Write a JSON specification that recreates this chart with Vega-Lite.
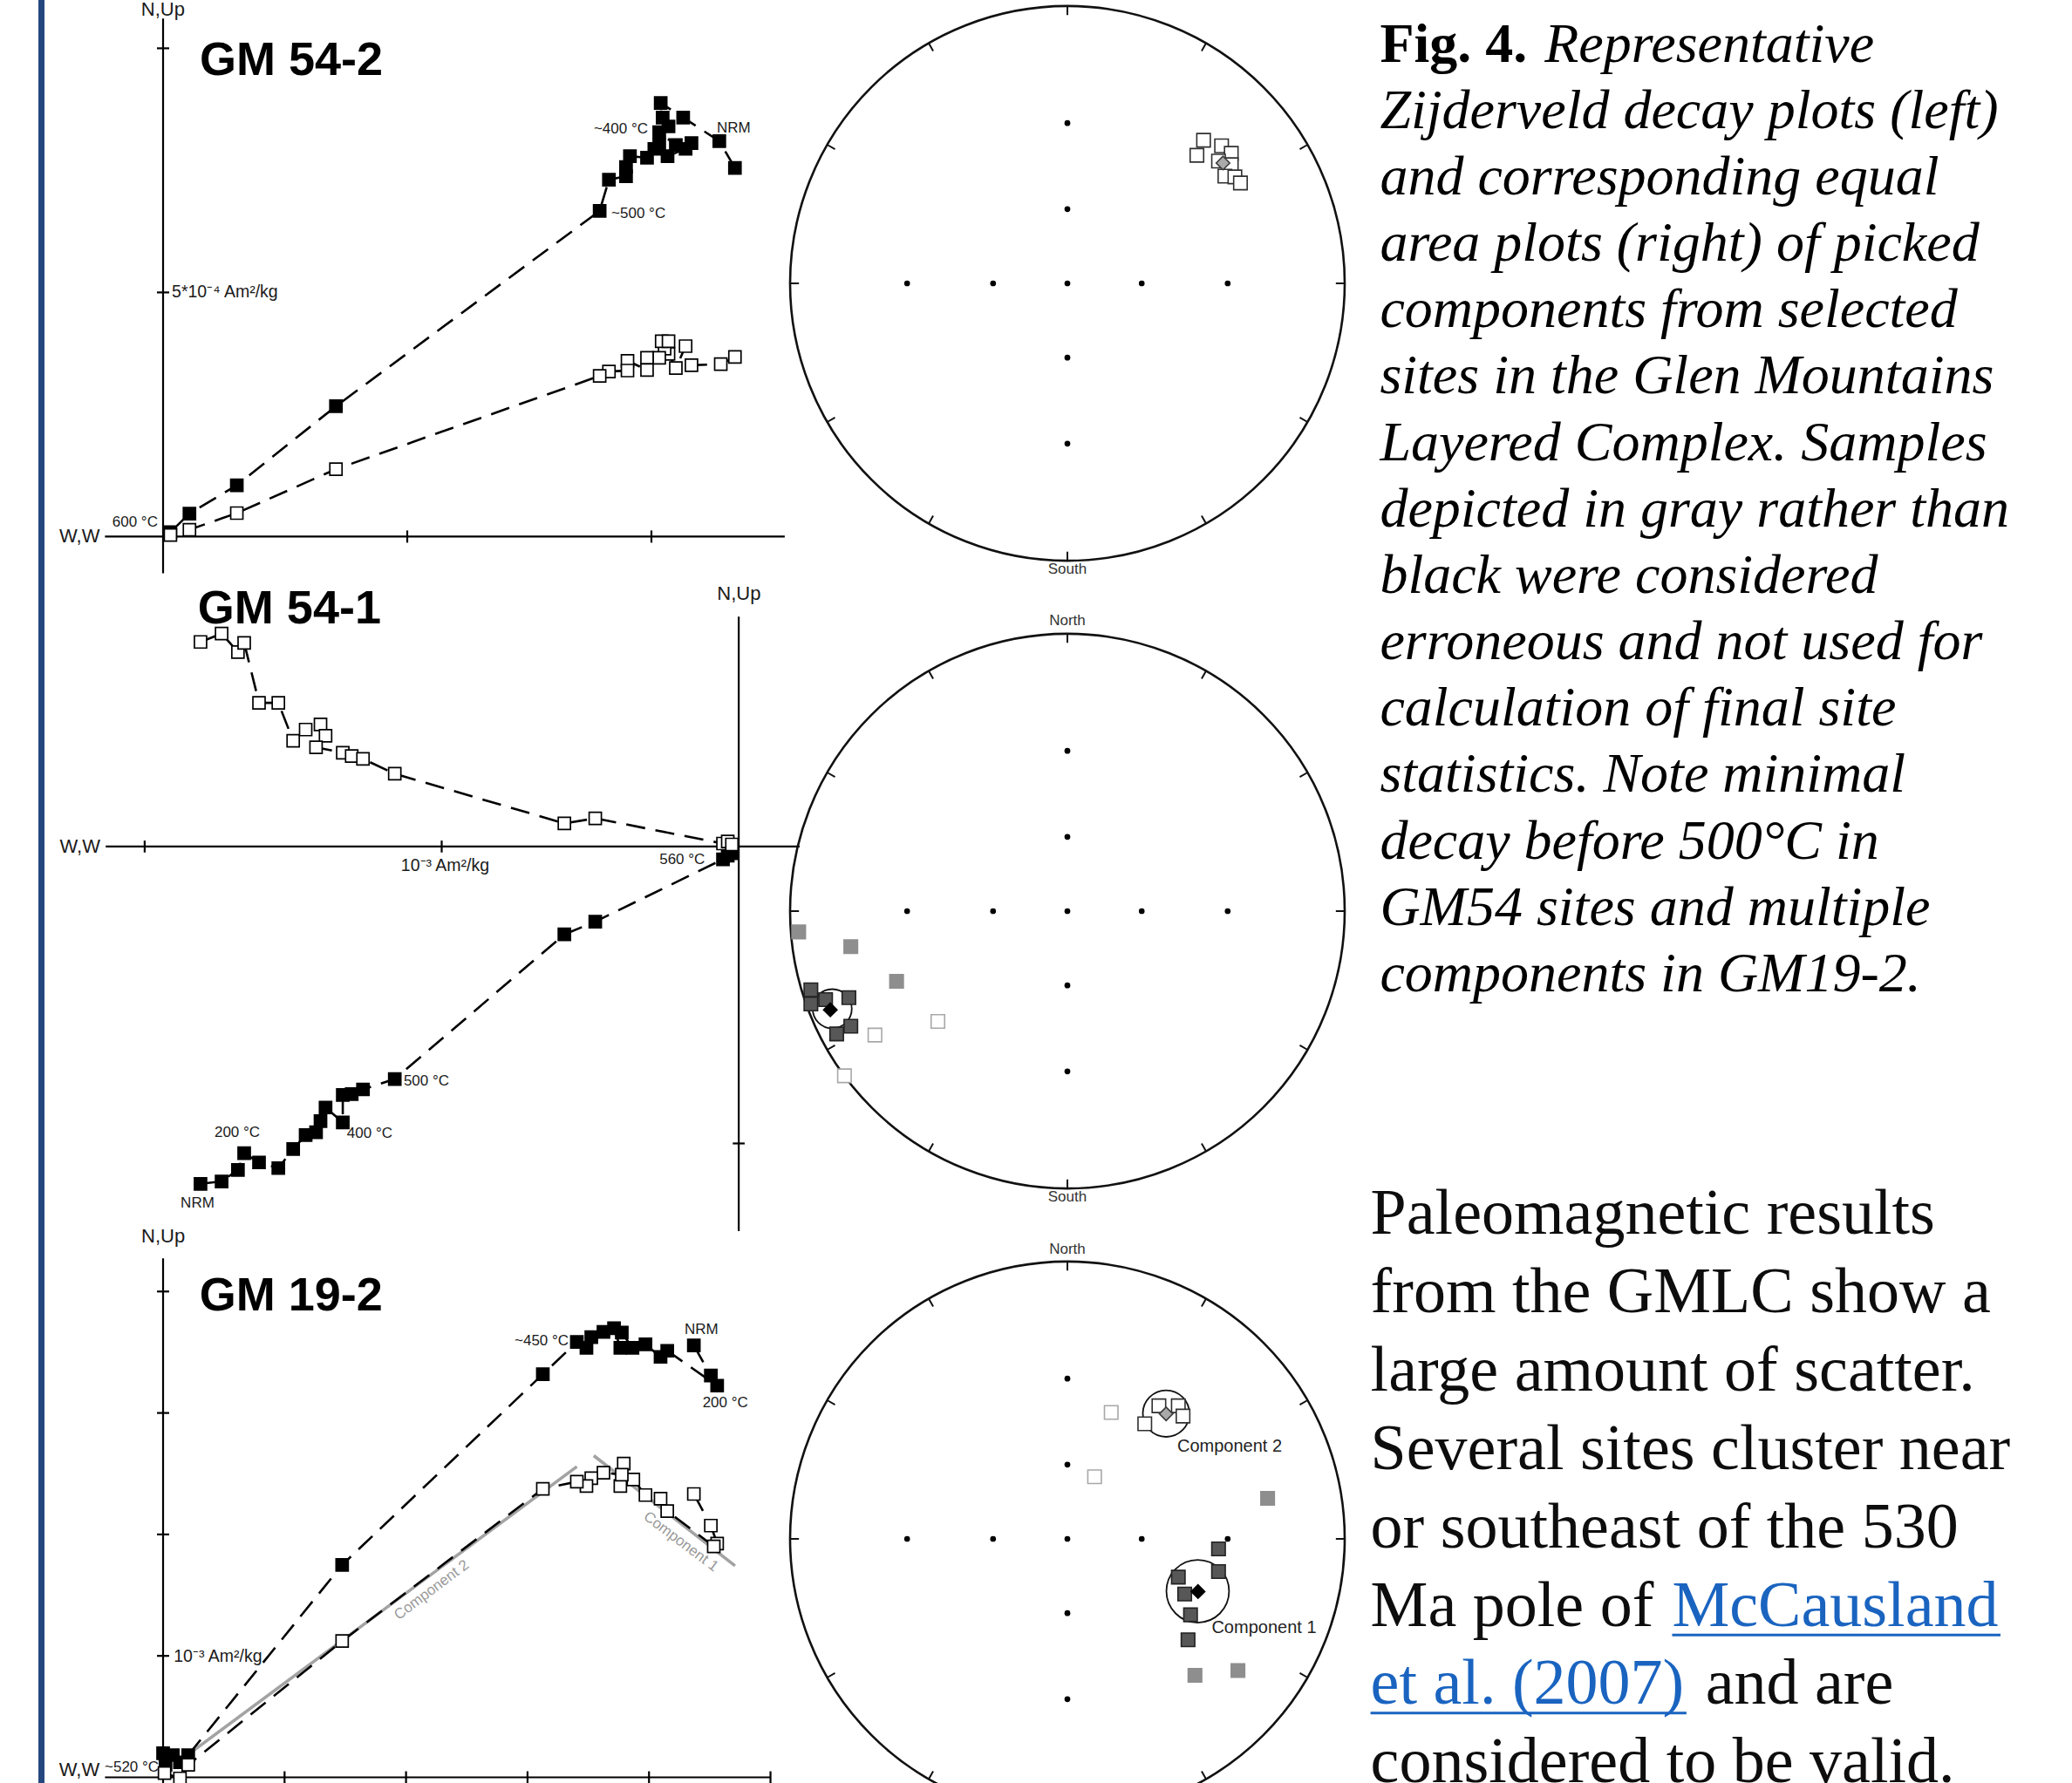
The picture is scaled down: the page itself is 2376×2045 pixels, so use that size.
{
"$schema": "https://vega.github.io/schema/vega-lite/v6.json",
"width": 2376, "height": 2045, "autosize": {"type": "none"}, "padding": 0,
"background": "#ffffff",
"config": {"view": {"stroke": null}},
"resolve": {"scale": {"x": "independent", "y": "independent", "size": "independent", "fill": "independent", "stroke": "independent", "color": "independent"}},
"datasets": {
  "net_ticks": [
    {"u": 0, "v": 1, "u2": 0, "v2": 0.968},
    {"u": 0.5, "v": 0.866, "u2": 0.484, "v2": 0.838},
    {"u": 0.866, "v": 0.5, "u2": 0.838, "v2": 0.484},
    {"u": 1, "v": 0, "u2": 0.968, "v2": 0},
    {"u": 0.866, "v": -0.5, "u2": 0.838, "v2": -0.484},
    {"u": 0.5, "v": -0.866, "u2": 0.484, "v2": -0.838},
    {"u": 0, "v": -1, "u2": 0, "v2": -0.968},
    {"u": -0.5, "v": -0.866, "u2": -0.484, "v2": -0.838},
    {"u": -0.866, "v": -0.5, "u2": -0.838, "v2": -0.484},
    {"u": -1, "v": 0, "u2": -0.968, "v2": 0},
    {"u": -0.866, "v": 0.5, "u2": -0.838, "v2": 0.484},
    {"u": -0.5, "v": 0.866, "u2": -0.484, "v2": 0.838}
  ],
  "net_dots": [
    {"u": 0, "v": 0}, {"u": 0, "v": 0.268}, {"u": 0, "v": 0.578}, {"u": 0, "v": -0.268}, {"u": 0, "v": -0.578},
    {"u": 0.268, "v": 0}, {"u": 0.578, "v": 0}, {"u": -0.268, "v": 0}, {"u": -0.578, "v": 0}
  ]
},
"layer": [
  {
    "data": {"values": [{"X": 0.02, "Y": 0, "Y2": 1}]},
    "mark": {"type": "rule", "color": "#24477f", "strokeWidth": 7},
    "encoding": {
      "x": {"field": "X", "type": "quantitative", "scale": {"domain": [0, 1], "range": [0, 2376], "nice": false, "zero": false}, "axis": null},
      "y": {"field": "Y", "type": "quantitative", "scale": {"domain": [0, 1], "range": [0, 2045], "nice": false, "zero": false}, "axis": null},
      "y2": {"field": "Y2"}
    }
  },
  {
    "data": {"values": [
      {"proj": "horizontal", "step": 0, "E": 11.71, "V": 7.55},
      {"proj": "horizontal", "step": 1, "E": 11.39, "V": 8.10},
      {"proj": "horizontal", "step": 2, "E": 10.65, "V": 8.58},
      {"proj": "horizontal", "step": 3, "E": 10.19, "V": 8.88},
      {"proj": "horizontal", "step": 4, "E": 10.23, "V": 8.58},
      {"proj": "horizontal", "step": 5, "E": 10.35, "V": 8.40},
      {"proj": "horizontal", "step": 6, "E": 10.16, "V": 8.28},
      {"proj": "horizontal", "step": 7, "E": 10.50, "V": 8.02},
      {"proj": "horizontal", "step": 8, "E": 10.82, "V": 8.06},
      {"proj": "horizontal", "step": 9, "E": 10.70, "V": 7.94},
      {"proj": "horizontal", "step": 10, "E": 10.33, "V": 7.79},
      {"proj": "horizontal", "step": 11, "E": 10.16, "V": 8.02},
      {"proj": "horizontal", "step": 12, "E": 10.06, "V": 7.94},
      {"proj": "horizontal", "step": 13, "E": 9.91, "V": 7.76},
      {"proj": "horizontal", "step": 14, "E": 9.56, "V": 7.79},
      {"proj": "horizontal", "step": 15, "E": 9.48, "V": 7.57},
      {"proj": "horizontal", "step": 16, "E": 9.48, "V": 7.38},
      {"proj": "horizontal", "step": 17, "E": 9.13, "V": 7.31},
      {"proj": "horizontal", "step": 18, "E": 8.94, "V": 6.67},
      {"proj": "horizontal", "step": 19, "E": 3.54, "V": 2.67},
      {"proj": "horizontal", "step": 20, "E": 1.51, "V": 1.05},
      {"proj": "horizontal", "step": 21, "E": 0.54, "V": 0.47},
      {"proj": "horizontal", "step": 22, "E": 0.15, "V": 0.09},
      {"proj": "vertical", "step": 0, "E": 11.71, "V": 3.68},
      {"proj": "vertical", "step": 1, "E": 11.42, "V": 3.53},
      {"proj": "vertical", "step": 2, "E": 10.82, "V": 3.51},
      {"proj": "vertical", "step": 3, "E": 10.70, "V": 3.90},
      {"proj": "vertical", "step": 4, "E": 10.50, "V": 3.45},
      {"proj": "vertical", "step": 5, "E": 10.35, "V": 3.74},
      {"proj": "vertical", "step": 6, "E": 10.27, "V": 3.85},
      {"proj": "vertical", "step": 7, "E": 10.21, "V": 4.00},
      {"proj": "vertical", "step": 8, "E": 10.35, "V": 4.00},
      {"proj": "vertical", "step": 9, "E": 10.16, "V": 3.66},
      {"proj": "vertical", "step": 10, "E": 9.91, "V": 3.66},
      {"proj": "vertical", "step": 11, "E": 9.91, "V": 3.41},
      {"proj": "vertical", "step": 12, "E": 9.51, "V": 3.60},
      {"proj": "vertical", "step": 13, "E": 9.51, "V": 3.40},
      {"proj": "vertical", "step": 14, "E": 9.13, "V": 3.38},
      {"proj": "vertical", "step": 15, "E": 8.94, "V": 3.29},
      {"proj": "vertical", "step": 16, "E": 3.54, "V": 1.38},
      {"proj": "vertical", "step": 17, "E": 1.51, "V": 0.48},
      {"proj": "vertical", "step": 18, "E": 0.54, "V": 0.14},
      {"proj": "vertical", "step": 19, "E": 0.15, "V": 0.03}
    ]},
    "encoding": {
      "x": {"field": "E", "type": "quantitative", "scale": {"domain": [-2.5, 13], "range": [47, 915], "nice": false, "zero": false}, "axis": null},
      "y": {"field": "V", "type": "quantitative", "scale": {"domain": [-1, 11.5], "range": [671.4, -28.6], "nice": false, "zero": false}, "axis": null}
    },
    "layer": [
      {"data": {"values": [
        {"E": -1.19, "V": 0, "E2": 12.73, "V2": 0},
        {"E": 0, "V": -0.75, "E2": 0, "V2": 10.61},
        {"E": 5, "V": -0.125, "E2": 5, "V2": 0.125},
        {"E": 10, "V": -0.125, "E2": 10, "V2": 0.125},
        {"E": -0.125, "V": 5, "E2": 0.125, "V2": 5},
        {"E": -0.125, "V": 10, "E2": 0.125, "V2": 10}
      ]},
       "mark": {"type": "rule", "color": "#000000", "strokeWidth": 2.2},
       "encoding": {"x2": {"field": "E2"}, "y2": {"field": "V2"}}},
      {"mark": {"type": "line", "color": "#000000", "strokeWidth": 2.6, "strokeDash": [22, 12]},
       "encoding": {"detail": {"field": "proj"}, "order": {"field": "step", "type": "quantitative"}}},
      {"mark": {"type": "point", "shape": "square", "filled": true, "size": 196, "strokeWidth": 1.7, "opacity": 1, "stroke": "#000000"},
       "encoding": {"fill": {"field": "proj", "type": "nominal", "scale": {"domain": ["horizontal", "vertical"], "range": ["#000000", "#ffffff"]}, "legend": null}}},
      {"data": {"values": [
        {"E": -0.45, "V": 10.79, "label": "N,Up", "kind": "axis"},
        {"E": -2.125, "V": 0, "label": "W,W", "kind": "axis"},
        {"E": 0.18, "V": 5.0, "label": "5*10\u207b\u2074 Am\u00b2/kg", "kind": "unit"},
        {"E": -1.04, "V": 0.30, "label": "600 \u00b0C", "kind": "temp"},
        {"E": 8.82, "V": 8.35, "label": "~400 \u00b0C", "kind": "temp"},
        {"E": 9.18, "V": 6.61, "label": "~500 \u00b0C", "kind": "temp"},
        {"E": 11.34, "V": 8.37, "label": "NRM", "kind": "temp"}
      ]},
       "mark": {"type": "text", "align": "left", "baseline": "middle", "font": "Liberation Sans", "color": "#1a1a1a"},
       "encoding": {"text": {"field": "label"}, "size": {"field": "kind", "type": "ordinal", "scale": {"domain": ["axis", "unit", "temp"], "range": [22, 17, 16]}, "legend": null}}},
      {"data": {"values": [{"E": 0.75, "V": 9.45, "label": "GM 54-2"}]},
       "mark": {"type": "text", "align": "left", "baseline": "alphabetic", "font": "Liberation Sans Narrow, Arial Narrow, Liberation Sans, sans-serif", "fontWeight": "bold", "fontSize": 54, "color": "#000000"},
       "encoding": {"text": {"field": "label"}}}
    ]
  },
  {
    "data": {"values": [
      {"proj": "horizontal", "step": 0, "E": -18.12, "V": -11.36},
      {"proj": "horizontal", "step": 1, "E": -17.41, "V": -11.28},
      {"proj": "horizontal", "step": 2, "E": -16.86, "V": -10.89},
      {"proj": "horizontal", "step": 3, "E": -16.65, "V": -10.33},
      {"proj": "horizontal", "step": 4, "E": -16.15, "V": -10.64},
      {"proj": "horizontal", "step": 5, "E": -15.50, "V": -10.83},
      {"proj": "horizontal", "step": 6, "E": -15.00, "V": -10.19},
      {"proj": "horizontal", "step": 7, "E": -14.58, "V": -9.72},
      {"proj": "horizontal", "step": 8, "E": -14.23, "V": -9.62},
      {"proj": "horizontal", "step": 9, "E": -14.08, "V": -9.25},
      {"proj": "horizontal", "step": 10, "E": -13.91, "V": -8.79},
      {"proj": "horizontal", "step": 11, "E": -13.33, "V": -9.29},
      {"proj": "horizontal", "step": 12, "E": -13.33, "V": -8.37},
      {"proj": "horizontal", "step": 13, "E": -13.03, "V": -8.34},
      {"proj": "horizontal", "step": 14, "E": -12.65, "V": -8.18},
      {"proj": "horizontal", "step": 15, "E": -11.58, "V": -7.83},
      {"proj": "horizontal", "step": 16, "E": -5.87, "V": -2.96},
      {"proj": "horizontal", "step": 17, "E": -4.83, "V": -2.53},
      {"proj": "horizontal", "step": 18, "E": -0.53, "V": -0.43},
      {"proj": "horizontal", "step": 19, "E": -0.37, "V": -0.31},
      {"proj": "horizontal", "step": 20, "E": -0.23, "V": -0.23},
      {"proj": "vertical", "step": 0, "E": -18.12, "V": 6.89},
      {"proj": "vertical", "step": 1, "E": -17.41, "V": 7.17},
      {"proj": "vertical", "step": 2, "E": -16.86, "V": 6.55},
      {"proj": "vertical", "step": 3, "E": -16.65, "V": 6.86},
      {"proj": "vertical", "step": 4, "E": -16.15, "V": 4.84},
      {"proj": "vertical", "step": 5, "E": -15.50, "V": 4.84},
      {"proj": "vertical", "step": 6, "E": -15.00, "V": 3.56},
      {"proj": "vertical", "step": 7, "E": -14.58, "V": 3.94},
      {"proj": "vertical", "step": 8, "E": -14.08, "V": 4.11},
      {"proj": "vertical", "step": 9, "E": -13.91, "V": 3.73},
      {"proj": "vertical", "step": 10, "E": -14.23, "V": 3.34},
      {"proj": "vertical", "step": 11, "E": -13.33, "V": 3.16},
      {"proj": "vertical", "step": 12, "E": -13.03, "V": 3.05},
      {"proj": "vertical", "step": 13, "E": -12.65, "V": 2.95},
      {"proj": "vertical", "step": 14, "E": -11.58, "V": 2.45},
      {"proj": "vertical", "step": 15, "E": -5.87, "V": 0.78},
      {"proj": "vertical", "step": 16, "E": -4.83, "V": 0.95},
      {"proj": "vertical", "step": 17, "E": -0.53, "V": 0.10},
      {"proj": "vertical", "step": 18, "E": -0.37, "V": 0.17},
      {"proj": "vertical", "step": 19, "E": -0.23, "V": 0.07}
    ]},
    "encoding": {
      "x": {"field": "E", "type": "quantitative", "scale": {"domain": [-23, 3], "range": [63.7, 949.3], "nice": false, "zero": false}, "axis": null},
      "y": {"field": "V", "type": "quantitative", "scale": {"domain": [-14, 9], "range": [1447.7, 664.4], "nice": false, "zero": false}, "axis": null}
    },
    "layer": [
      {"data": {"values": [
        {"E": -21.31, "V": 0, "E2": 2.05, "V2": 0},
        {"E": 0, "V": -12.95, "E2": 0, "V2": 7.74},
        {"E": -20, "V": -0.2, "E2": -20, "V2": 0.2},
        {"E": -10, "V": -0.2, "E2": -10, "V2": 0.2},
        {"E": -0.2, "V": -10, "E2": 0.2, "V2": -10}
      ]},
       "mark": {"type": "rule", "color": "#000000", "strokeWidth": 2.2},
       "encoding": {"x2": {"field": "E2"}, "y2": {"field": "V2"}}},
      {"mark": {"type": "line", "color": "#000000", "strokeWidth": 2.6, "strokeDash": [22, 12]},
       "encoding": {"detail": {"field": "proj"}, "order": {"field": "step", "type": "quantitative"}}},
      {"mark": {"type": "point", "shape": "square", "filled": true, "size": 196, "strokeWidth": 1.7, "opacity": 1, "stroke": "#000000"},
       "encoding": {"fill": {"field": "proj", "type": "nominal", "scale": {"domain": ["horizontal", "vertical"], "range": ["#000000", "#ffffff"]}, "legend": null}}},
      {"data": {"values": [
        {"E": -0.73, "V": 8.5, "label": "N,Up", "kind": "axis"},
        {"E": -22.86, "V": 0, "label": "W,W", "kind": "axis"},
        {"E": -11.37, "V": -0.65, "label": "10\u207b\u00b3 Am\u00b2/kg", "kind": "unit"},
        {"E": -2.67, "V": -0.43, "label": "560 \u00b0C", "kind": "temp"},
        {"E": -11.28, "V": -7.90, "label": "500 \u00b0C", "kind": "temp"},
        {"E": -17.65, "V": -9.62, "label": "200 \u00b0C", "kind": "temp"},
        {"E": -13.19, "V": -9.65, "label": "400 \u00b0C", "kind": "temp"},
        {"E": -18.79, "V": -12.0, "label": "NRM", "kind": "temp"}
      ]},
       "mark": {"type": "text", "align": "left", "baseline": "middle", "font": "Liberation Sans", "color": "#1a1a1a"},
       "encoding": {"text": {"field": "label"}, "size": {"field": "kind", "type": "ordinal", "scale": {"domain": ["axis", "unit", "temp"], "range": [22, 17, 16]}, "legend": null}}},
      {"data": {"values": [{"E": -18.21, "V": 7.51, "label": "GM 54-1"}]},
       "mark": {"type": "text", "align": "left", "baseline": "alphabetic", "font": "Liberation Sans Narrow, Arial Narrow, Liberation Sans, sans-serif", "fontWeight": "bold", "fontSize": 54, "color": "#000000"},
       "encoding": {"text": {"field": "label"}}}
    ]
  },
  {
    "data": {"values": [
      {"proj": "horizontal", "step": 0, "E": 43.69, "V": 35.56},
      {"proj": "horizontal", "step": 1, "E": 45.09, "V": 33.08},
      {"proj": "horizontal", "step": 2, "E": 45.61, "V": 32.25},
      {"proj": "horizontal", "step": 3, "E": 41.50, "V": 35.12},
      {"proj": "horizontal", "step": 4, "E": 40.95, "V": 34.62},
      {"proj": "horizontal", "step": 5, "E": 39.71, "V": 35.65},
      {"proj": "horizontal", "step": 6, "E": 38.64, "V": 35.36},
      {"proj": "horizontal", "step": 7, "E": 37.76, "V": 36.62},
      {"proj": "horizontal", "step": 8, "E": 37.64, "V": 35.36},
      {"proj": "horizontal", "step": 9, "E": 37.12, "V": 36.98},
      {"proj": "horizontal", "step": 10, "E": 36.25, "V": 36.68},
      {"proj": "horizontal", "step": 11, "E": 35.25, "V": 36.24},
      {"proj": "horizontal", "step": 12, "E": 34.85, "V": 35.36},
      {"proj": "horizontal", "step": 13, "E": 34.06, "V": 35.85},
      {"proj": "horizontal", "step": 14, "E": 31.26, "V": 33.19},
      {"proj": "horizontal", "step": 15, "E": 14.74, "V": 17.49},
      {"proj": "horizontal", "step": 16, "E": 2.07, "V": 1.83},
      {"proj": "horizontal", "step": 17, "E": 1.39, "V": 1.24},
      {"proj": "horizontal", "step": 18, "E": 0.80, "V": 1.83},
      {"proj": "horizontal", "step": 19, "E": 0.00, "V": 1.98},
      {"proj": "horizontal", "step": 20, "E": 0.20, "V": 1.03},
      {"proj": "vertical", "step": 0, "E": 43.69, "V": 23.33},
      {"proj": "vertical", "step": 1, "E": 45.09, "V": 20.73},
      {"proj": "vertical", "step": 2, "E": 45.61, "V": 19.25},
      {"proj": "vertical", "step": 3, "E": 45.33, "V": 19.02},
      {"proj": "vertical", "step": 4, "E": 41.50, "V": 21.92},
      {"proj": "vertical", "step": 5, "E": 40.95, "V": 22.95},
      {"proj": "vertical", "step": 6, "E": 39.71, "V": 23.24},
      {"proj": "vertical", "step": 7, "E": 38.71, "V": 24.52},
      {"proj": "vertical", "step": 8, "E": 37.64, "V": 23.98},
      {"proj": "vertical", "step": 9, "E": 37.92, "V": 25.84},
      {"proj": "vertical", "step": 10, "E": 37.76, "V": 24.92},
      {"proj": "vertical", "step": 11, "E": 36.25, "V": 25.08},
      {"proj": "vertical", "step": 12, "E": 35.25, "V": 24.63},
      {"proj": "vertical", "step": 13, "E": 34.85, "V": 23.98},
      {"proj": "vertical", "step": 14, "E": 34.06, "V": 24.34},
      {"proj": "vertical", "step": 15, "E": 31.26, "V": 23.75},
      {"proj": "vertical", "step": 16, "E": 14.74, "V": 11.22},
      {"proj": "vertical", "step": 17, "E": 2.07, "V": 1.03},
      {"proj": "vertical", "step": 18, "E": 1.39, "V": -0.09},
      {"proj": "vertical", "step": 19, "E": 0.12, "V": 0.35}
    ]},
    "encoding": {
      "x": {"field": "E", "type": "quantitative", "scale": {"domain": [-10, 52], "range": [47.7, 911.4], "nice": false, "zero": false}, "axis": null},
      "y": {"field": "V", "type": "quantitative", "scale": {"domain": [-3, 46], "range": [2080.3, 1397.7], "nice": false, "zero": false}, "axis": null}
    },
    "layer": [
      {"data": {"values": [
        {"E": -4.78, "V": 0, "E2": 50, "V2": 0},
        {"E": 0, "V": -3, "E2": 0, "V2": 42.73},
        {"E": -0.5, "V": 10, "E2": 0.5, "V2": 10},
        {"E": -0.5, "V": 20, "E2": 0.5, "V2": 20},
        {"E": -0.5, "V": 30, "E2": 0.5, "V2": 30},
        {"E": -0.5, "V": 40, "E2": 0.5, "V2": 40},
        {"E": 10, "V": -0.5, "E2": 10, "V2": 0.5},
        {"E": 20, "V": -0.5, "E2": 20, "V2": 0.5},
        {"E": 30, "V": -0.5, "E2": 30, "V2": 0.5},
        {"E": 40, "V": -0.5, "E2": 40, "V2": 0.5},
        {"E": 50, "V": -0.5, "E2": 50, "V2": 0.5}
      ]},
       "mark": {"type": "rule", "color": "#000000", "strokeWidth": 2.2},
       "encoding": {"x2": {"field": "E2"}, "y2": {"field": "V2"}}},
      {"data": {"values": [
        {"comp": "Component 2", "step": 0, "E": 1.0, "V": 1.09},
        {"comp": "Component 2", "step": 1, "E": 34.06, "V": 25.58},
        {"comp": "Component 1", "step": 0, "E": 35.45, "V": 26.49},
        {"comp": "Component 1", "step": 1, "E": 47.08, "V": 17.42}
      ]},
       "mark": {"type": "line", "color": "#a3a3a3", "strokeWidth": 3.6},
       "encoding": {"detail": {"field": "comp"}, "order": {"field": "step", "type": "quantitative"}}},
      {"mark": {"type": "line", "color": "#000000", "strokeWidth": 2.6, "strokeDash": [22, 12]},
       "encoding": {"detail": {"field": "proj"}, "order": {"field": "step", "type": "quantitative"}}},
      {"mark": {"type": "point", "shape": "square", "filled": true, "size": 196, "strokeWidth": 1.7, "opacity": 1, "stroke": "#000000"},
       "encoding": {"fill": {"field": "proj", "type": "nominal", "scale": {"domain": ["horizontal", "vertical"], "range": ["#000000", "#ffffff"]}, "legend": null}}},
      {"data": {"values": [
        {"E": -1.79, "V": 44.51, "label": "N,Up", "kind": "axis"},
        {"E": -8.56, "V": 0.62, "label": "W,W", "kind": "axis"},
        {"E": 0.88, "V": 9.95, "label": "10\u207b\u00b3 Am\u00b2/kg", "kind": "unit"},
        {"E": -4.81, "V": 0.85, "label": "~520 \u00b0C", "kind": "temp"},
        {"E": 28.93, "V": 35.94, "label": "~450 \u00b0C", "kind": "temp"},
        {"E": 42.93, "V": 36.88, "label": "NRM", "kind": "temp"},
        {"E": 44.41, "V": 30.83, "label": "200 \u00b0C", "kind": "temp"}
      ]},
       "mark": {"type": "text", "align": "left", "baseline": "middle", "font": "Liberation Sans", "color": "#1a1a1a"},
       "encoding": {"text": {"field": "label"}, "size": {"field": "kind", "type": "ordinal", "scale": {"domain": ["axis", "unit", "temp"], "range": [22, 17, 16]}, "legend": null}}},
      {"data": {"values": [{"E": 22.11, "V": 15.42, "label": "Component 2"}]},
       "mark": {"type": "text", "align": "center", "baseline": "middle", "font": "Liberation Sans", "fontSize": 17, "angle": -37, "color": "#9a9a9a"},
       "encoding": {"text": {"field": "label"}}},
      {"data": {"values": [{"E": 42.62, "V": 19.40, "label": "Component 1"}]},
       "mark": {"type": "text", "align": "center", "baseline": "middle", "font": "Liberation Sans", "fontSize": 17, "angle": 37, "color": "#9a9a9a"},
       "encoding": {"text": {"field": "label"}}},
      {"data": {"values": [{"E": 2.99, "V": 38.44, "label": "GM 19-2"}]},
       "mark": {"type": "text", "align": "left", "baseline": "alphabetic", "font": "Liberation Sans Narrow, Arial Narrow, Liberation Sans, sans-serif", "fontWeight": "bold", "fontSize": 54, "color": "#000000"},
       "encoding": {"text": {"field": "label"}}}
    ]
  },
  {
    "encoding": {
      "x": {"field": "u", "type": "quantitative", "scale": {"domain": [-1.1, 1.1], "range": [874.2, 1573.8], "nice": false, "zero": false}, "axis": null},
      "y": {"field": "v", "type": "quantitative", "scale": {"domain": [-1.1, 1.1], "range": [674.8, -24.8], "nice": false, "zero": false}, "axis": null}
    },
    "layer": [
      {"data": {"values": [{"u": 0, "v": 0, "r": 1}]},
       "mark": {"type": "point", "shape": "circle", "filled": false, "stroke": "#111111", "strokeWidth": 2.6, "opacity": 1},
       "encoding": {"size": {"field": "r", "type": "quantitative", "scale": {"type": "pow", "exponent": 2, "domain": [0, 1], "range": [0, 404496]}, "legend": null}}},
      {"data": {"name": "net_ticks"}, "mark": {"type": "rule", "color": "#111111", "strokeWidth": 2}, "encoding": {"x2": {"field": "u2"}, "y2": {"field": "v2"}}},
      {"data": {"name": "net_dots"}, "mark": {"type": "point", "shape": "circle", "filled": true, "color": "#000000", "size": 45, "opacity": 1}},
      {"data": {"values": [
        {"type": "open", "u": 0.491, "v": 0.516}, {"type": "open", "u": 0.467, "v": 0.462}, {"type": "open", "u": 0.556, "v": 0.496},
        {"type": "open", "u": 0.591, "v": 0.469}, {"type": "open", "u": 0.545, "v": 0.441}, {"type": "open", "u": 0.591, "v": 0.428},
        {"type": "open", "u": 0.568, "v": 0.387}, {"type": "open", "u": 0.604, "v": 0.384}, {"type": "open", "u": 0.624, "v": 0.362},
        {"type": "meangray", "u": 0.561, "v": 0.434}
      ]},
       "mark": {"type": "point", "filled": true, "strokeWidth": 1.6, "opacity": 1},
       "encoding": {
         "shape": {"field": "type", "type": "nominal", "scale": {"domain": ["dark", "light", "open", "openlight", "meangray", "meanblack"], "range": ["square", "square", "square", "square", "diamond", "diamond"]}, "legend": null},
         "size": {"field": "type", "type": "nominal", "scale": {"domain": ["dark", "light", "open", "openlight", "meangray", "meanblack"], "range": [240, 240, 240, 240, 380, 380]}, "legend": null},
         "fill": {"field": "type", "type": "nominal", "scale": {"domain": ["dark", "light", "open", "openlight", "meangray", "meanblack"], "range": ["#575757", "#8e8e8e", "#ffffff", "#ffffff", "#a9a9a9", "#000000"]}, "legend": null},
         "stroke": {"field": "type", "type": "nominal", "scale": {"domain": ["dark", "light", "open", "openlight", "meangray", "meanblack"], "range": ["#222222", "#8e8e8e", "#303030", "#a8a8a8", "#3a3a3a", "#000000"]}, "legend": null}
       }},
      {"data": {"values": [{"u": 0, "v": -1.03, "label": "South"}]},
       "mark": {"type": "text", "align": "center", "baseline": "middle", "font": "Liberation Sans", "fontSize": 17, "color": "#333333"},
       "encoding": {"text": {"field": "label"}}}
    ]
  },
  {
    "encoding": {
      "x": {"field": "u", "type": "quantitative", "scale": {"domain": [-1.1, 1.1], "range": [874.2, 1573.8], "nice": false, "zero": false}, "axis": null},
      "y": {"field": "v", "type": "quantitative", "scale": {"domain": [-1.1, 1.1], "range": [1394.8, 695.2], "nice": false, "zero": false}, "axis": null}
    },
    "layer": [
      {"data": {"values": [{"u": 0, "v": 0, "r": 1}]},
       "mark": {"type": "point", "shape": "circle", "filled": false, "stroke": "#111111", "strokeWidth": 2.6, "opacity": 1},
       "encoding": {"size": {"field": "r", "type": "quantitative", "scale": {"type": "pow", "exponent": 2, "domain": [0, 1], "range": [0, 404496]}, "legend": null}}},
      {"data": {"name": "net_ticks"}, "mark": {"type": "rule", "color": "#111111", "strokeWidth": 2}, "encoding": {"x2": {"field": "u2"}, "y2": {"field": "v2"}}},
      {"data": {"name": "net_dots"}, "mark": {"type": "point", "shape": "circle", "filled": true, "color": "#000000", "size": 45, "opacity": 1}},
      {"data": {"values": [{"u": -0.848, "v": -0.352, "r": 0.0705}]},
       "mark": {"type": "point", "shape": "circle", "filled": false, "stroke": "#111111", "strokeWidth": 1.8, "opacity": 1},
       "encoding": {"size": {"field": "r", "type": "quantitative", "scale": {"type": "pow", "exponent": 2, "domain": [0, 1], "range": [0, 404496]}, "legend": null}}},
      {"data": {"values": [
        {"type": "light", "u": -0.969, "v": -0.075}, {"type": "light", "u": -0.781, "v": -0.128}, {"type": "light", "u": -0.616, "v": -0.253},
        {"type": "openlight", "u": -0.694, "v": -0.447}, {"type": "openlight", "u": -0.467, "v": -0.398}, {"type": "openlight", "u": -0.804, "v": -0.594},
        {"type": "dark", "u": -0.925, "v": -0.284}, {"type": "dark", "u": -0.925, "v": -0.335}, {"type": "dark", "u": -0.872, "v": -0.319},
        {"type": "dark", "u": -0.788, "v": -0.312}, {"type": "dark", "u": -0.781, "v": -0.415}, {"type": "dark", "u": -0.832, "v": -0.443},
        {"type": "meanblack", "u": -0.855, "v": -0.356}
      ]},
       "mark": {"type": "point", "filled": true, "strokeWidth": 1.6, "opacity": 1},
       "encoding": {
         "shape": {"field": "type", "type": "nominal", "scale": {"domain": ["dark", "light", "open", "openlight", "meangray", "meanblack"], "range": ["square", "square", "square", "square", "diamond", "diamond"]}, "legend": null},
         "size": {"field": "type", "type": "nominal", "scale": {"domain": ["dark", "light", "open", "openlight", "meangray", "meanblack"], "range": [240, 240, 240, 240, 340, 340]}, "legend": null},
         "fill": {"field": "type", "type": "nominal", "scale": {"domain": ["dark", "light", "open", "openlight", "meangray", "meanblack"], "range": ["#575757", "#8e8e8e", "#ffffff", "#ffffff", "#a9a9a9", "#000000"]}, "legend": null},
         "stroke": {"field": "type", "type": "nominal", "scale": {"domain": ["dark", "light", "open", "openlight", "meangray", "meanblack"], "range": ["#222222", "#8e8e8e", "#303030", "#a8a8a8", "#3a3a3a", "#000000"]}, "legend": null}
       }},
      {"data": {"values": [{"u": 0, "v": 1.047, "label": "North"}, {"u": 0, "v": -1.031, "label": "South"}]},
       "mark": {"type": "text", "align": "center", "baseline": "middle", "font": "Liberation Sans", "fontSize": 17, "color": "#333333"},
       "encoding": {"text": {"field": "label"}}}
    ]
  },
  {
    "encoding": {
      "x": {"field": "u", "type": "quantitative", "scale": {"domain": [-1.1, 1.1], "range": [874.2, 1573.8], "nice": false, "zero": false}, "axis": null},
      "y": {"field": "v", "type": "quantitative", "scale": {"domain": [-1.1, 1.1], "range": [2114.8, 1415.2], "nice": false, "zero": false}, "axis": null}
    },
    "layer": [
      {"data": {"values": [{"u": 0, "v": 0, "r": 1}]},
       "mark": {"type": "point", "shape": "circle", "filled": false, "stroke": "#111111", "strokeWidth": 2.6, "opacity": 1},
       "encoding": {"size": {"field": "r", "type": "quantitative", "scale": {"type": "pow", "exponent": 2, "domain": [0, 1], "range": [0, 404496]}, "legend": null}}},
      {"data": {"name": "net_ticks"}, "mark": {"type": "rule", "color": "#111111", "strokeWidth": 2}, "encoding": {"x2": {"field": "u2"}, "y2": {"field": "v2"}}},
      {"data": {"name": "net_dots"}, "mark": {"type": "point", "shape": "circle", "filled": true, "color": "#000000", "size": 45, "opacity": 1}},
      {"data": {"values": [{"u": 0.356, "v": 0.452, "r": 0.084}, {"u": 0.470, "v": -0.189, "r": 0.113}]},
       "mark": {"type": "point", "shape": "circle", "filled": false, "stroke": "#111111", "strokeWidth": 1.8, "opacity": 1},
       "encoding": {"size": {"field": "r", "type": "quantitative", "scale": {"type": "pow", "exponent": 2, "domain": [0, 1], "range": [0, 404496]}, "legend": null}}},
      {"data": {"values": [
        {"type": "open", "u": 0.330, "v": 0.480}, {"type": "open", "u": 0.400, "v": 0.480}, {"type": "open", "u": 0.417, "v": 0.443}, {"type": "open", "u": 0.279, "v": 0.415},
        {"type": "openlight", "u": 0.158, "v": 0.456}, {"type": "openlight", "u": 0.098, "v": 0.224},
        {"type": "light", "u": 0.722, "v": 0.146}, {"type": "light", "u": 0.460, "v": -0.492}, {"type": "light", "u": 0.615, "v": -0.475},
        {"type": "dark", "u": 0.545, "v": -0.036}, {"type": "dark", "u": 0.545, "v": -0.118}, {"type": "dark", "u": 0.400, "v": -0.138},
        {"type": "dark", "u": 0.423, "v": -0.199}, {"type": "dark", "u": 0.444, "v": -0.274}, {"type": "dark", "u": 0.435, "v": -0.364},
        {"type": "meangray", "u": 0.356, "v": 0.451}, {"type": "meanblack", "u": 0.471, "v": -0.190}
      ]},
       "mark": {"type": "point", "filled": true, "strokeWidth": 1.6, "opacity": 1},
       "encoding": {
         "shape": {"field": "type", "type": "nominal", "scale": {"domain": ["dark", "light", "open", "openlight", "meangray", "meanblack"], "range": ["square", "square", "square", "square", "diamond", "diamond"]}, "legend": null},
         "size": {"field": "type", "type": "nominal", "scale": {"domain": ["dark", "light", "open", "openlight", "meangray", "meanblack"], "range": [240, 240, 240, 240, 360, 360]}, "legend": null},
         "fill": {"field": "type", "type": "nominal", "scale": {"domain": ["dark", "light", "open", "openlight", "meangray", "meanblack"], "range": ["#575757", "#8e8e8e", "#ffffff", "#ffffff", "#a9a9a9", "#000000"]}, "legend": null},
         "stroke": {"field": "type", "type": "nominal", "scale": {"domain": ["dark", "light", "open", "openlight", "meangray", "meanblack"], "range": ["#222222", "#8e8e8e", "#303030", "#a8a8a8", "#3a3a3a", "#000000"]}, "legend": null}
       }},
      {"data": {"values": [{"u": 0, "v": 1.044, "label": "North"}]},
       "mark": {"type": "text", "align": "center", "baseline": "middle", "font": "Liberation Sans", "fontSize": 17, "color": "#333333"},
       "encoding": {"text": {"field": "label"}}},
      {"data": {"values": [{"u": 0.585, "v": 0.334, "label": "Component 2"}, {"u": 0.709, "v": -0.320, "label": "Component 1"}]},
       "mark": {"type": "text", "align": "center", "baseline": "middle", "font": "Liberation Sans", "fontSize": 20, "color": "#222222"},
       "encoding": {"text": {"field": "label"}}}
    ]
  },
  {
    "data": {"values": [
      {"line": 1, "em": 0, "role": "figlabel", "text": "Fig. 4."},
      {"line": 1, "em": 2.95, "role": "caption", "text": "Representative"},
      {"line": 2, "em": 0, "role": "caption", "text": "Zijderveld decay plots (left)"},
      {"line": 3, "em": 0, "role": "caption", "text": "and corresponding equal"},
      {"line": 4, "em": 0, "role": "caption", "text": "area plots (right) of picked"},
      {"line": 5, "em": 0, "role": "caption", "text": "components from selected"},
      {"line": 6, "em": 0, "role": "caption", "text": "sites in the Glen Mountains"},
      {"line": 7, "em": 0, "role": "caption", "text": "Layered Complex. Samples"},
      {"line": 8, "em": 0, "role": "caption", "text": "depicted in gray rather than"},
      {"line": 9, "em": 0, "role": "caption", "text": "black were considered"},
      {"line": 10, "em": 0, "role": "caption", "text": "erroneous and not used for"},
      {"line": 11, "em": 0, "role": "caption", "text": "calculation of final site"},
      {"line": 12, "em": 0, "role": "caption", "text": "statistics. Note minimal"},
      {"line": 13, "em": 0, "role": "caption", "text": "decay before 500\u00b0C in"},
      {"line": 14, "em": 0, "role": "caption", "text": "GM54 sites and multiple"},
      {"line": 15, "em": 0, "role": "caption", "text": "components in GM19-2."}
    ]},
    "encoding": {
      "x": {"field": "em", "type": "quantitative", "scale": {"domain": [0, 12], "range": [1582.4, 2350.4], "nice": false, "zero": false}, "axis": null},
      "y": {"field": "line", "type": "quantitative", "scale": {"domain": [1, 15], "range": [70.5, 1136.9], "nice": false, "zero": false}, "axis": null},
      "text": {"field": "text"}
    },
    "layer": [
      {"transform": [{"filter": "datum.role == 'figlabel'"}],
       "mark": {"type": "text", "align": "left", "baseline": "alphabetic", "font": "Liberation Serif", "fontSize": 64, "fontWeight": "bold", "color": "#000000"}},
      {"transform": [{"filter": "datum.role == 'caption'"}],
       "mark": {"type": "text", "align": "left", "baseline": "alphabetic", "font": "Liberation Serif", "fontSize": 64, "fontStyle": "italic", "color": "#000000"}}
    ]
  },
  {
    "encoding": {
      "x": {"field": "em", "type": "quantitative", "scale": {"domain": [0, 10], "range": [1571.6, 2311.6], "nice": false, "zero": false}, "axis": null},
      "y": {"field": "line", "type": "quantitative", "scale": {"domain": [1, 8], "range": [1415, 2044.3], "nice": false, "zero": false}, "axis": null}
    },
    "layer": [
      {"data": {"values": [
        {"line": 1, "em": 0, "role": "text", "text": "Paleomagnetic results"},
        {"line": 2, "em": 0, "role": "text", "text": "from the GMLC show a"},
        {"line": 3, "em": 0, "role": "text", "text": "large amount of scatter."},
        {"line": 4, "em": 0, "role": "text", "text": "Several sites cluster near"},
        {"line": 5, "em": 0, "role": "text", "text": "or southeast of the 530"},
        {"line": 6, "em": 0, "role": "text", "text": "Ma pole of"},
        {"line": 6, "em": 4.674, "role": "link", "text": "McCausland"},
        {"line": 7, "em": 0, "role": "link", "text": "et al. (2007)"},
        {"line": 7, "em": 5.19, "role": "text", "text": "and are"},
        {"line": 8, "em": 0, "role": "text", "text": "considered to be valid."}
      ]},
       "mark": {"type": "text", "align": "left", "baseline": "alphabetic", "font": "Liberation Serif", "fontSize": 74},
       "encoding": {"text": {"field": "text"}, "color": {"field": "role", "type": "nominal", "scale": {"domain": ["text", "link"], "range": ["#0d0d0d", "#1a64c0"]}, "legend": null}}},
      {"data": {"values": [
        {"line": 6.12, "em": 4.674, "em2": 9.762},
        {"line": 7.115, "em": 0, "em2": 4.896}
      ]},
       "mark": {"type": "rule", "color": "#1a64c0", "strokeWidth": 3},
       "encoding": {"x2": {"field": "em2"}}}
    ]
  }
]
}
